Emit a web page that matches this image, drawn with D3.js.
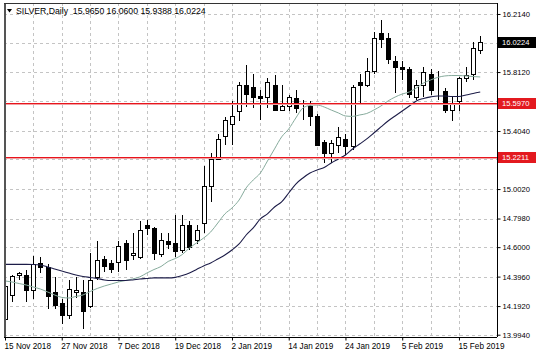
<!DOCTYPE html>
<html>
<head>
<meta charset="utf-8">
<script src="https://cdn.jsdelivr.net/npm/d3@7"></script>
<style>
  html, body { margin: 0; padding: 0; background: #ffffff; }
  svg { display: block; }
  text { font-family: "Liberation Sans", Arial, sans-serif; fill: #000; }
</style>
</head>
<body>
<svg id="chart" width="536" height="358"></svg>
<script>
// ---------- DATA ----------
const dates = [
  "2018-11-15","2018-11-16","2018-11-19","2018-11-20","2018-11-21","2018-11-22","2018-11-23","2018-11-26",
  "2018-11-27","2018-11-28","2018-11-29","2018-11-30","2018-12-03","2018-12-04","2018-12-05","2018-12-06",
  "2018-12-07","2018-12-10","2018-12-11","2018-12-12","2018-12-13","2018-12-14","2018-12-17","2018-12-18",
  "2018-12-19","2018-12-20","2018-12-21","2018-12-24","2018-12-26","2018-12-27","2018-12-28","2018-12-31",
  "2019-01-02","2019-01-03","2019-01-04","2019-01-07","2019-01-08","2019-01-09","2019-01-10","2019-01-11",
  "2019-01-14","2019-01-15","2019-01-16","2019-01-17","2019-01-18","2019-01-21","2019-01-22","2019-01-23",
  "2019-01-24","2019-01-25","2019-01-28","2019-01-29","2019-01-30","2019-01-31","2019-02-01","2019-02-04",
  "2019-02-05","2019-02-06","2019-02-07","2019-02-08","2019-02-11","2019-02-12","2019-02-13","2019-02-14",
  "2019-02-15","2019-02-18","2019-02-19","2019-02-20"
];
const open  = [14.10,14.27,14.405,14.41,14.30,14.49,14.46,14.29,14.21,14.13,14.29,14.29,14.19,14.39,14.52,14.49,
               14.50,14.63,14.545,14.53,14.75,14.73,14.55,14.64,14.63,14.58,14.75,14.65,14.77,15.02,15.21,15.37,
               15.45,15.54,15.72,15.71,15.645,15.64,15.72,15.55,15.58,15.63,15.57,15.58,15.51,15.33,15.25,15.31,
               15.35,15.30,15.74,15.72,15.82,16.08,16.05,15.89,15.85,15.83,15.64,15.72,15.80,15.68,15.68,15.55,
               15.61,15.77,15.80,15.965];
const high  = [14.34,14.41,14.43,14.44,14.54,14.53,14.48,14.39,14.24,14.37,14.39,14.37,14.56,14.64,14.54,14.51,
               14.64,14.65,14.70,14.78,14.79,14.74,14.70,14.70,14.82,14.82,14.78,14.75,15.16,15.25,15.38,15.50,
               15.61,15.74,15.86,15.80,15.69,15.77,15.79,15.72,15.65,15.69,15.62,15.61,15.52,15.34,15.34,15.43,
               15.38,15.72,15.80,15.91,16.09,16.17,16.08,15.92,15.89,15.85,15.76,15.85,15.83,15.82,15.70,15.64,
               15.78,15.85,16.02,16.06];
const low   = [14.08,14.22,14.37,14.22,14.24,14.42,14.17,14.17,14.07,14.10,14.25,14.03,14.18,14.37,14.43,14.42,
               14.43,14.44,14.51,14.52,14.685,14.51,14.53,14.59,14.53,14.56,14.58,14.62,14.70,14.91,15.20,15.31,
               15.31,15.47,15.57,15.56,15.48,15.56,15.54,15.54,15.54,15.53,15.48,15.44,15.30,15.18,15.18,15.25,
               15.24,15.27,15.60,15.71,15.80,15.98,15.87,15.67,15.76,15.63,15.62,15.64,15.65,15.62,15.53,15.47,
               15.54,15.74,15.76,15.9388];
const close = [14.33,14.40,14.42,14.30,14.48,14.46,14.26,14.20,14.13,14.31,14.30,14.155,14.37,14.51,14.47,14.45,
               14.61,14.51,14.56,14.72,14.73,14.56,14.65,14.62,14.57,14.75,14.60,14.72,15.02,15.21,15.35,15.48,
               15.51,15.72,15.66,15.64,15.63,15.74,15.55,15.58,15.64,15.56,15.572,15.51,15.31,15.25,15.32,15.36,
               15.30,15.71,15.72,15.82,16.05,16.04,15.90,15.85,15.83,15.66,15.72,15.81,15.69,15.682,15.55,15.60,
               15.77,15.79,15.98,16.0224];
// moving averages
const maFast = [14.366,14.359,14.348,14.338,14.324,14.310,14.290,14.269,14.252,14.248,14.259,14.269,14.293,14.314,14.331,14.345,
                14.359,14.369,14.380,14.394,14.421,14.445,14.466,14.501,14.521,14.549,14.594,14.629,14.663,14.705,14.767,14.830,
                14.871,14.926,15.010,15.065,15.113,15.196,15.280,15.363,15.418,15.494,15.563,15.581,15.584,15.570,15.549,15.529,
                15.508,15.505,15.515,15.525,15.549,15.577,15.612,15.639,15.660,15.674,15.702,15.736,15.757,15.775,15.785,15.788,
                15.788,15.785,15.781,15.778];
const maSlow = [14.481,14.481,14.481,14.481,14.480,14.476,14.463,14.449,14.435,14.421,14.407,14.397,14.390,14.383,14.373,14.369,
                14.369,14.369,14.373,14.380,14.383,14.387,14.387,14.387,14.391,14.404,14.421,14.445,14.470,14.490,14.518,14.546,
                14.580,14.622,14.684,14.733,14.795,14.830,14.878,14.913,14.975,15.037,15.079,15.113,15.134,15.151,15.183,15.210,
                15.238,15.279,15.314,15.349,15.390,15.432,15.473,15.508,15.542,15.577,15.612,15.629,15.640,15.646,15.646,15.643,
                15.643,15.653,15.664,15.674];
// grid ticks; labelled ones are those not hidden behind the price markers
const yTicks = [16.2140,16.0160,15.8120,15.6100,15.4040,15.2080,15.0020,14.7980,14.6000,14.3960,14.1920,13.9940];
const yLabelled = [16.2140,15.8120,15.4040,15.0020,14.7980,14.6000,14.3960,14.1920,13.9940];
const xLabelEvery = 8;
const xGridEvery = 4;
const levels = [15.5970, 15.2211];
const lastPrice = 16.0224;
const title = "SILVER,Daily  15.9650 16.0600 15.9388 16.0224";

// ---------- LAYOUT ----------
const L = 4, R = 497, T = 3, B = 337;
const svg = d3.select("#chart");

const bars = dates.map((d, i) => ({ d, o: open[i], h: high[i], l: low[i], c: close[i] }));

const x = d3.scalePoint().domain(dates).range([5, 5 + 7.093 * (dates.length - 1)]);
const y = d3.scaleLinear().domain([13.978, 16.290]).range([B, T]);
const parse = d3.timeParse("%Y-%m-%d");
const fmtDate = d3.timeFormat("%-d %b %Y");

const px = v => Math.round(v) + 0.5;

// clip for plot area
svg.append("defs").append("clipPath").attr("id", "plot")
  .append("rect").attr("x", L + 1).attr("y", T).attr("width", R - L - 1).attr("height", B - T);

// grid
const grid = svg.append("g").attr("stroke", "#c4c4c4").attr("stroke-dasharray", "3,3").attr("stroke-width", 1);
grid.selectAll("line.h").data(yTicks).join("line").attr("class", "h")
  .attr("x1", L).attr("x2", R).attr("y1", d => px(y(d))).attr("y2", d => px(y(d)));
grid.selectAll("line.v").data(dates.filter((d, i) => i > 0 && i % xGridEvery === 0)).join("line").attr("class", "v")
  .attr("x1", d => px(x(d))).attr("x2", d => px(x(d))).attr("y1", T).attr("y2", B);

const plot = svg.append("g").attr("clip-path", "url(#plot)");

// candles
const cg = plot.append("g").attr("shape-rendering", "crispEdges");
cg.selectAll("line.wick").data(bars).join("line").attr("class", "wick")
  .attr("x1", b => px(x(b.d))).attr("x2", b => px(x(b.d)))
  .attr("y1", b => Math.round(y(b.h))).attr("y2", b => Math.round(y(b.l)))
  .attr("stroke", "#000").attr("stroke-width", 1);
cg.selectAll("rect.body").data(bars).join("rect").attr("class", "body")
  .attr("x", b => Math.round(x(b.d)) - 2 + 0.5)
  .attr("width", 4)
  .attr("y", b => Math.round(y(Math.max(b.o, b.c))) + 0.5)
  .attr("height", b => Math.max(0, Math.round(y(Math.min(b.o, b.c))) - Math.round(y(Math.max(b.o, b.c)))))
  .attr("fill", b => b.c >= b.o ? "#ffffff" : "#000000")
  .attr("stroke", "#000").attr("stroke-width", 1);

// moving averages
const line = d3.line().x((v, i) => x(dates[i])).y(v => y(v)).curve(d3.curveMonotoneX);
plot.append("path").datum(maFast).attr("d", line).attr("fill", "none")
  .attr("stroke", "#86ab9c").attr("stroke-width", 1);
plot.append("path").datum(maSlow).attr("d", line).attr("fill", "none")
  .attr("stroke", "#1c1c48").attr("stroke-width", 1.1);

// horizontal levels (drawn as thin filled rects so the colour stays saturated)
svg.selectAll("rect.level").data(levels).join("rect").attr("class", "level")
  .attr("x", L + 1).attr("width", R - L - 1)
  .attr("y", d => Math.round(y(d))).attr("height", 1)
  .attr("fill", "#e8141c").attr("shape-rendering", "crispEdges");
svg.selectAll("rect.levelHalo").data(levels).join("rect").attr("class", "levelHalo")
  .attr("x", L + 1).attr("width", R - L - 1)
  .attr("y", d => Math.round(y(d)) + 1).attr("height", 1)
  .attr("fill", "#f2a0a2").attr("shape-rendering", "crispEdges");

// frame
const frame = svg.append("g").attr("stroke", "#000").attr("shape-rendering", "crispEdges");
frame.append("line").attr("x1", L + 0.5).attr("x2", L + 0.5).attr("y1", T).attr("y2", B).attr("stroke", "#555").attr("stroke-width", 2);
frame.append("line").attr("x1", L).attr("x2", R).attr("y1", T + 0.5).attr("y2", T + 0.5).attr("stroke", "#333");

// right axis
const yAxis = svg.append("g").attr("transform", `translate(${R + 0.5},0)`)
  .call(d3.axisRight(y).tickValues(yTicks).tickSize(3).tickPadding(2)
    .tickFormat(d => yLabelled.includes(d) ? d3.format(".4f")(d) : ""));
yAxis.select(".domain").attr("d", `M0,${T}V${B}`).attr("stroke", "#000");
yAxis.selectAll("text").style("font-size", "7.6px").style("font-family", "'Liberation Sans', Arial, sans-serif");

// bottom axis
const xAxis = svg.append("g").attr("transform", `translate(0,${B + 0.5})`)
  .call(d3.axisBottom(x).tickValues(dates.filter((d, i) => i % xLabelEvery === 0)).tickSize(3).tickPadding(3)
    .tickFormat(d => fmtDate(parse(d))));
xAxis.select(".domain").attr("d", `M${L},0H${R}`).attr("stroke", "#000");
xAxis.selectAll("text").attr("text-anchor", "start").attr("dx", "-1")
  .style("font-size", "8.2px").style("font-family", "'Liberation Sans', Arial, sans-serif");

// price markers on axis
const markers = levels.map(v => ({ v, fill: "#e3191f" })).concat([{ v: lastPrice, fill: "#000000" }]);
const mg = svg.append("g");
mg.selectAll("rect").data(markers).join("rect")
  .attr("x", R + 1).attr("width", 536 - R - 1)
  .attr("y", m => Math.round(y(m.v)) - 5).attr("height", 11)
  .attr("fill", m => m.fill);
mg.selectAll("text").data(markers).join("text")
  .attr("x", R + 5).attr("y", m => Math.round(y(m.v)) + 3)
  .style("font-size", "7.6px").style("fill", "#ffffff")
  .text(m => d3.format(".4f")(m.v));

// title
svg.append("path").attr("d", "M7,9 L12,9 L9.5,12.5 Z").attr("fill", "#000");
svg.append("text").attr("x", 16).attr("y", 14).style("font-size", "8.7px").attr("xml:space", "preserve")
  .style("white-space", "pre").text(title);
</script>
</body>
</html>
